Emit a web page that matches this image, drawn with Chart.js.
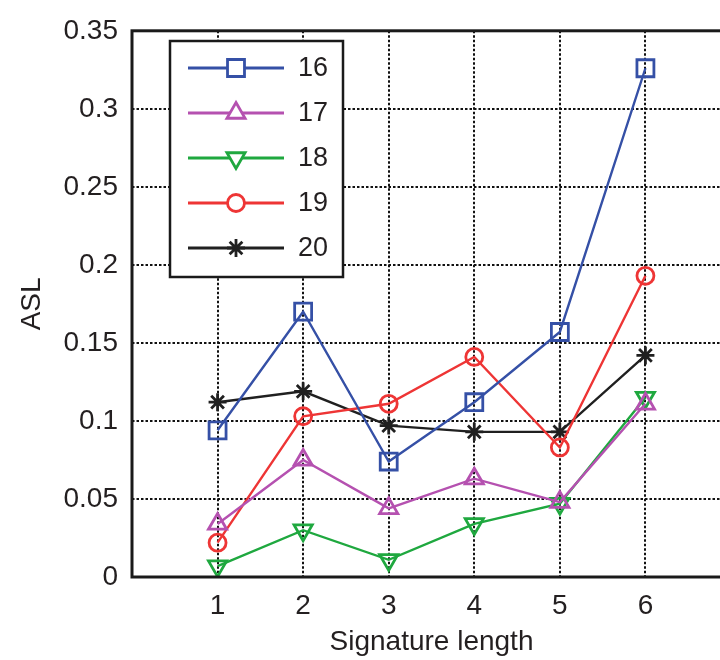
<!DOCTYPE html>
<html>
<head>
<meta charset="utf-8">
<script src="https://cdn.jsdelivr.net/npm/chart.js@4/dist/chart.umd.min.js"></script>
<style>
  html, body { margin: 0; padding: 0; background: #fff; overflow: hidden; width: 720px; height: 660px; }
  #wrap { width: 760px; height: 660px; }
</style>
</head>
<body>
<div id="wrap"><canvas id="chart" width="760" height="660"></canvas></div>
<script>
// Data
const lengths = [1, 2, 3, 4, 5, 6];
const seriesNames = ['16', '17', '18', '19', '20'];
const asl16 = [0.094, 0.170, 0.074, 0.112, 0.157, 0.326];
const asl17 = [0.034, 0.075, 0.044, 0.063, 0.048, 0.111];
const asl18 = [0.007, 0.030, 0.011, 0.034, 0.047, 0.115];
const asl19 = [0.022, 0.103, 0.111, 0.141, 0.083, 0.193];
const asl20 = [0.112, 0.119, 0.097, 0.093, 0.093, 0.142];
const yTicks = [0, 0.05, 0.1, 0.15, 0.2, 0.25, 0.3, 0.35];

const FONT = '"Liberation Sans", Arial, sans-serif';
const TEXT = '#231f20';

// marker / colour per series
const styles = [
  { color: '#3550a6', point: 'rect', radius: 12, rot: 0 },
  { color: '#b551b0', point: 'triangle', radius: 10.5, rot: 0 },
  { color: '#1fa83f', point: 'triangle', radius: 10.5, rot: 180 },
  { color: '#ee3535', point: 'circle', radius: 8.5, rot: 0 },
  { color: '#202020', point: 'star', radius: 9, rot: 0 }
];
const allValues = [asl16, asl17, asl18, asl19, asl20];

const datasets = allValues.map((vals, i) => ({
  label: seriesNames[i],
  data: lengths.map((x, j) => ({ x: x, y: vals[j] })),
  borderColor: styles[i].color,
  borderWidth: 2.4,
  pointStyle: styles[i].point,
  pointRadius: styles[i].radius,
  pointRotation: styles[i].rot,
  pointBorderWidth: 2.8,
  pointBorderColor: styles[i].color,
  pointBackgroundColor: 'rgba(0,0,0,0)',
  fill: false,
  tension: 0
}));

// box around plot area (right side runs off the picture)
const boxPlugin = {
  id: 'box',
  afterDatasetsDraw(chart) {
    const { ctx, chartArea: a } = chart;
    ctx.save();
    ctx.strokeStyle = '#1a1a1a';
    ctx.lineWidth = 3;
    ctx.strokeRect(a.left, a.top, a.right - a.left, a.bottom - a.top);
    ctx.restore();
  }
};

// MATLAB-like legend box
const legendPlugin = {
  id: 'mlegend',
  afterDraw(chart) {
    const ctx = chart.ctx;
    const x0 = 170, y0 = 41, w = 173, h = 236;
    ctx.save();
    ctx.fillStyle = '#fff';
    ctx.fillRect(x0, y0, w, h);
    ctx.strokeStyle = '#1a1a1a';
    ctx.lineWidth = 2.5;
    ctx.strokeRect(x0, y0, w, h);
    chart.data.datasets.forEach((ds, i) => {
      const y = 68 + i * 45;
      ctx.strokeStyle = ds.borderColor;
      ctx.lineWidth = 3;
      ctx.beginPath();
      ctx.moveTo(188, y);
      ctx.lineTo(284, y);
      ctx.stroke();
      ctx.lineWidth = ds.pointBorderWidth;
      ctx.fillStyle = '#fff';
      Chart.helpers.drawPoint(ctx, {
        pointStyle: ds.pointStyle, radius: ds.pointRadius,
        rotation: ds.pointRotation, borderWidth: ds.pointBorderWidth
      }, 236, y);
      ctx.fillStyle = TEXT;
      ctx.font = '27px ' + FONT;
      ctx.textBaseline = 'middle';
      ctx.fillText(ds.label, 298, y + 1);
    });
    ctx.restore();
  }
};

new Chart(document.getElementById('chart'), {
  type: 'line',
  data: { datasets: datasets },
  options: {
    responsive: false,
    animation: false,
    layout: { padding: { top: 24, right: 29, left: 0, bottom: 0 } },
    plugins: { legend: { display: false }, tooltip: { enabled: false } },
    scales: {
      x: {
        type: 'linear', min: 0, max: 7,
        afterBuildTicks(scale) { scale.ticks = lengths.map(v => ({ value: v })); },
        afterFit(scale) { scale.height = 83; },
        grid: { color: '#111', lineWidth: 2, drawTicks: false },
        border: { display: false, dash: [2.5, 2] },
        ticks: { font: { family: FONT, size: 28 }, color: TEXT, padding: 12, maxRotation: 0 },
        title: { display: true, text: 'Signature length', font: { family: FONT, size: 28 }, color: TEXT, padding: { top: 0, bottom: 1 } }
      },
      y: {
        min: 0, max: 0.35,
        afterBuildTicks(scale) { scale.ticks = yTicks.map(v => ({ value: v })); },
        afterFit(scale) { scale.width = 132; },
        grid: { color: '#111', lineWidth: 2, drawTicks: false },
        border: { display: false, dash: [2.5, 2] },
        ticks: { font: { family: FONT, size: 28 }, color: TEXT, padding: 14, callback: v => String(v) },
        title: { display: true, text: 'ASL', font: { family: FONT, size: 28 }, color: TEXT, padding: { top: 15, bottom: 0 } }
      }
    }
  },
  plugins: [boxPlugin, legendPlugin]
});
</script>
</body>
</html>
